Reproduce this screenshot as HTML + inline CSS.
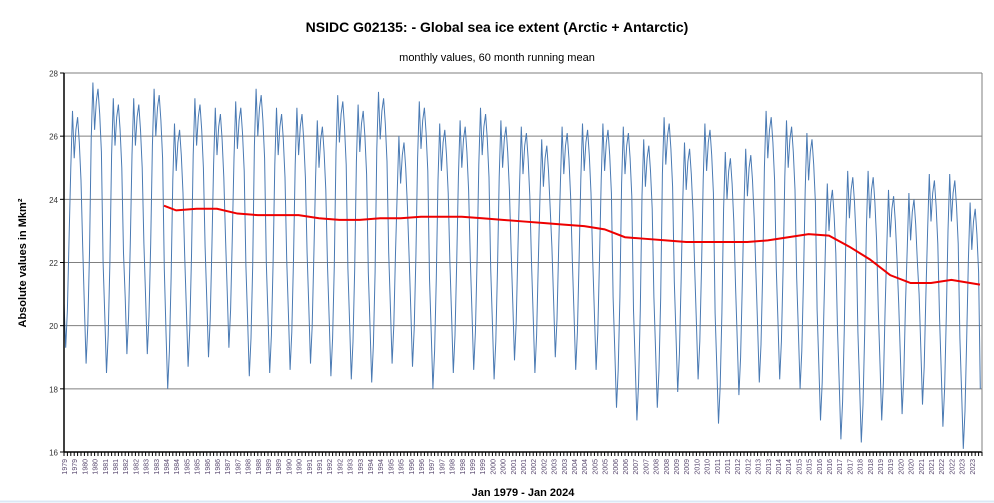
<!DOCTYPE html>
<html><head><meta charset="utf-8">
<style>
html,body{margin:0;padding:0;background:#fff;}
svg{display:block;font-family:"Liberation Sans",sans-serif;}
</style></head>
<body>
<svg id="chart" width="994" height="503" viewBox="0 0 994 503">
<text x="497" y="32" text-anchor="middle" font-size="14" font-weight="bold" fill="#000">NSIDC G02135: - Global sea ice extent (Arctic + Antarctic)</text>
<text x="497" y="61" text-anchor="middle" font-size="11" fill="#000">monthly values, 60 month running mean</text>
<text transform="translate(26,263) rotate(-90)" text-anchor="middle" font-size="11" font-weight="bold" fill="#000">Absolute values in Mkm²</text>
<text x="523" y="496" text-anchor="middle" font-size="11" font-weight="bold" fill="#000">Jan 1979 - Jan 2024</text>
<g id="grid"></g><g id="series"></g><g id="axes"></g>
<line x1="0" y1="501.5" x2="994" y2="501.5" stroke="#dbe8f5" stroke-width="2"/>
</svg>
<script>
const startYear = 1979;
const yTicks = [16,18,20,22,24,26,28];
const monthly = [
20.7,19.3,20.5,22.8,25.0,26.8,25.3,26.2,26.6,25.8,24.6,22.5,
20.6,18.8,20.0,22.3,25.9,27.7,26.2,27.1,27.5,26.7,25.5,22.0,
20.3,18.5,19.7,22.0,25.4,27.2,25.7,26.6,27.0,26.2,25.0,22.3,
20.9,19.1,20.3,22.6,25.4,27.2,25.7,26.6,27.0,26.2,25.0,22.6,
20.9,19.1,20.3,22.6,25.7,27.5,26.0,26.9,27.3,26.5,25.3,21.8,
19.8,18.0,19.2,21.5,24.6,26.4,24.9,25.8,26.2,25.4,24.2,22.2,
20.5,18.7,19.9,22.2,25.4,27.2,25.7,26.6,27.0,26.2,25.0,22.5,
20.8,19.0,20.2,22.5,25.1,26.9,25.4,26.3,26.7,25.9,24.7,22.8,
21.1,19.3,20.5,22.8,25.3,27.1,25.6,26.5,26.9,26.1,24.9,21.9,
20.2,18.4,19.6,21.9,25.7,27.5,26.0,26.9,27.3,26.5,25.3,22.0,
20.3,18.5,19.7,22.0,25.1,26.9,25.4,26.3,26.7,25.9,24.7,22.1,
20.4,18.6,19.8,22.1,25.1,26.9,25.4,26.3,26.7,25.9,24.7,22.3,
20.6,18.8,20.0,22.3,24.7,26.5,25.0,25.9,26.3,25.5,24.3,21.9,
20.2,18.4,19.6,21.9,25.5,27.3,25.8,26.7,27.1,26.3,25.1,21.8,
20.1,18.3,19.5,21.8,25.2,27.0,25.5,26.4,26.8,26.0,24.8,21.7,
20.0,18.2,19.4,21.7,25.6,27.4,25.9,26.8,27.2,26.4,25.2,22.3,
20.6,18.8,20.0,22.3,24.2,26.0,24.5,25.4,25.8,25.0,23.8,22.2,
20.5,18.7,19.9,22.2,25.3,27.1,25.6,26.5,26.9,26.1,24.9,21.5,
19.8,18.0,19.2,21.5,24.6,26.4,24.9,25.8,26.2,25.4,24.2,22.0,
20.3,18.5,19.7,22.0,24.7,26.5,25.0,25.9,26.3,25.5,24.3,22.1,
20.4,18.6,19.8,22.1,25.1,26.9,25.4,26.3,26.7,25.9,24.7,21.8,
20.1,18.3,19.5,21.8,24.7,26.5,25.0,25.9,26.3,25.5,24.3,22.4,
20.7,18.9,20.1,22.4,24.5,26.3,24.8,25.7,26.1,25.3,24.1,22.0,
20.3,18.5,19.7,22.0,24.1,25.9,24.4,25.3,25.7,24.9,23.7,22.5,
20.8,19.0,20.2,22.5,24.5,26.3,24.8,25.7,26.1,25.3,24.1,22.1,
20.4,18.6,19.8,22.1,24.6,26.4,24.9,25.8,26.2,25.4,24.2,22.1,
20.4,18.6,19.8,22.1,24.6,26.4,24.9,25.8,26.2,25.4,24.2,20.9,
19.2,17.4,18.6,20.9,24.5,26.3,24.8,25.7,26.1,25.3,24.1,20.5,
18.8,17.0,18.2,20.5,24.1,25.9,24.4,25.3,25.7,24.9,23.7,20.9,
19.2,17.4,18.6,20.9,24.8,26.6,25.1,26.0,26.4,25.6,24.4,21.4,
19.7,17.9,19.1,21.4,24.0,25.8,24.3,25.2,25.6,24.8,23.6,21.8,
20.1,18.3,19.5,21.8,24.6,26.4,24.9,25.8,26.2,25.4,24.2,20.4,
18.7,16.9,18.1,20.4,23.7,25.5,24.0,24.9,25.3,24.5,23.3,21.3,
19.6,17.8,19.0,21.3,23.8,25.6,24.1,25.0,25.4,24.6,23.4,21.7,
20.0,18.2,19.4,21.7,25.0,26.8,25.3,26.2,26.6,25.8,24.6,21.8,
20.1,18.3,19.5,21.8,24.7,26.5,25.0,25.9,26.3,25.5,24.3,21.5,
19.8,18.0,19.2,21.5,24.3,26.1,24.6,25.5,25.9,25.1,23.9,20.5,
18.8,17.0,18.2,20.5,22.7,24.5,23.0,23.9,24.3,23.5,22.3,19.9,
18.2,16.4,17.6,19.9,23.1,24.9,23.4,24.3,24.7,23.9,22.7,19.8,
18.1,16.3,17.5,19.8,23.1,24.9,23.4,24.3,24.7,23.9,22.7,20.5,
18.8,17.0,18.2,20.5,22.5,24.3,22.8,23.7,24.1,23.3,22.1,20.7,
19.0,17.2,18.4,20.7,22.4,24.2,22.7,23.6,24.0,23.2,22.0,21.0,
19.3,17.5,18.7,21.0,23.0,24.8,23.3,24.2,24.6,23.8,22.6,20.3,
18.6,16.8,18.0,20.3,23.0,24.8,23.3,24.2,24.6,23.8,22.6,19.6,
17.9,16.1,17.3,19.6,22.1,23.9,22.4,23.3,23.7,22.9,21.7,18.0
];
const meanYears = [1983.9,1984.5,1985.5,1986.5,1987.5,1988.5,1989.5,1990.5,1991.5,1992.5,1993.5,1994.5,1995.5,1996.5,1997.5,1998.5,1999.5,2000.5,2001.5,2002.5,2003.5,2004.5,2005.5,2006.5,2007.5,2008.5,2009.5,2010.5,2011.5,2012.5,2013.5,2014.5,2015.5,2016.5,2017.5,2018.5,2019.5,2020.5,2021.5,2022.5,2023.9];
const meanValues = [23.8,23.65,23.7,23.7,23.55,23.5,23.5,23.5,23.4,23.35,23.35,23.4,23.4,23.45,23.45,23.45,23.4,23.35,23.3,23.25,23.2,23.15,23.05,22.8,22.75,22.7,22.65,22.65,22.65,22.65,22.7,22.8,22.9,22.85,22.5,22.1,21.6,21.35,21.35,21.45,21.3];

const NS="http://www.w3.org/2000/svg";
const X0=64,X1=982,Y0=452,Y1=73;
const xScale=t=>X0+(t-startYear)/45*(X1-X0);
const yScale=v=>Y0-(v-16)/12*(Y0-Y1);
function mk(tag,attrs,parent){const e=document.createElementNS(NS,tag);for(const k in attrs)e.setAttribute(k,attrs[k]);parent.appendChild(e);return e;}
const grid=document.getElementById('grid'),series=document.getElementById('series'),axes=document.getElementById('axes');
yTicks.forEach(v=>{
  const y=yScale(v);
  const gl=mk('line',{x1:X0,x2:X1,y1:y,y2:y,stroke:'#7f7f7f','stroke-width':1},grid);
  
  
  const t=mk('text',{x:X0-6,y:y+3.5,'text-anchor':'end','font-size':8,fill:'#333'},axes);
  t.textContent=v;
  
  
  mk('line',{x1:X0-4,x2:X0,y1:y,y2:y,stroke:'#000'},axes);
});
// monthly line
let d='';
monthly.forEach((v,i)=>{d+=(i?'L':'M')+xScale(startYear+i/12).toFixed(2)+','+yScale(v).toFixed(2);});
const ml=mk('path',{d:d,fill:'none',stroke:'#4a7ab3','stroke-width':1},series);


let d2='';
meanYears.forEach((t,i)=>{d2+=(i?'L':'M')+xScale(t).toFixed(2)+','+yScale(meanValues[i]).toFixed(2);});
const rl=mk('path',{d:d2,fill:'none',stroke:'#ee0000','stroke-width':2},series);


// axes
mk('line',{x1:X0,x2:X0,y1:Y1,y2:Y0,stroke:'#000','stroke-width':1.5},axes);
mk('line',{x1:X0,x2:X1,y1:Y0,y2:Y0,stroke:'#000','stroke-width':1.5},axes);
mk('line',{x1:X1,x2:X1,y1:Y1,y2:Y0,stroke:'#7f7f7f','stroke-width':1},axes);
for(let m=0;m<=540;m+=2){const x=xScale(startYear+m/12);mk('line',{x1:x,x2:x,y1:Y0,y2:Y0+4,stroke:'#000'},axes);}
for(let h=0;h<90;h++){
  const yr=startYear+Math.floor(h/2);
  const x=xScale(startYear+h/2)+3;
  const t=mk('text',{transform:'translate('+x.toFixed(1)+','+(Y0+7)+') rotate(-90)','text-anchor':'end','font-size':7,fill:'#5a4a70'},axes);
  t.textContent=yr;
  
  
}
</script>
</body></html>
